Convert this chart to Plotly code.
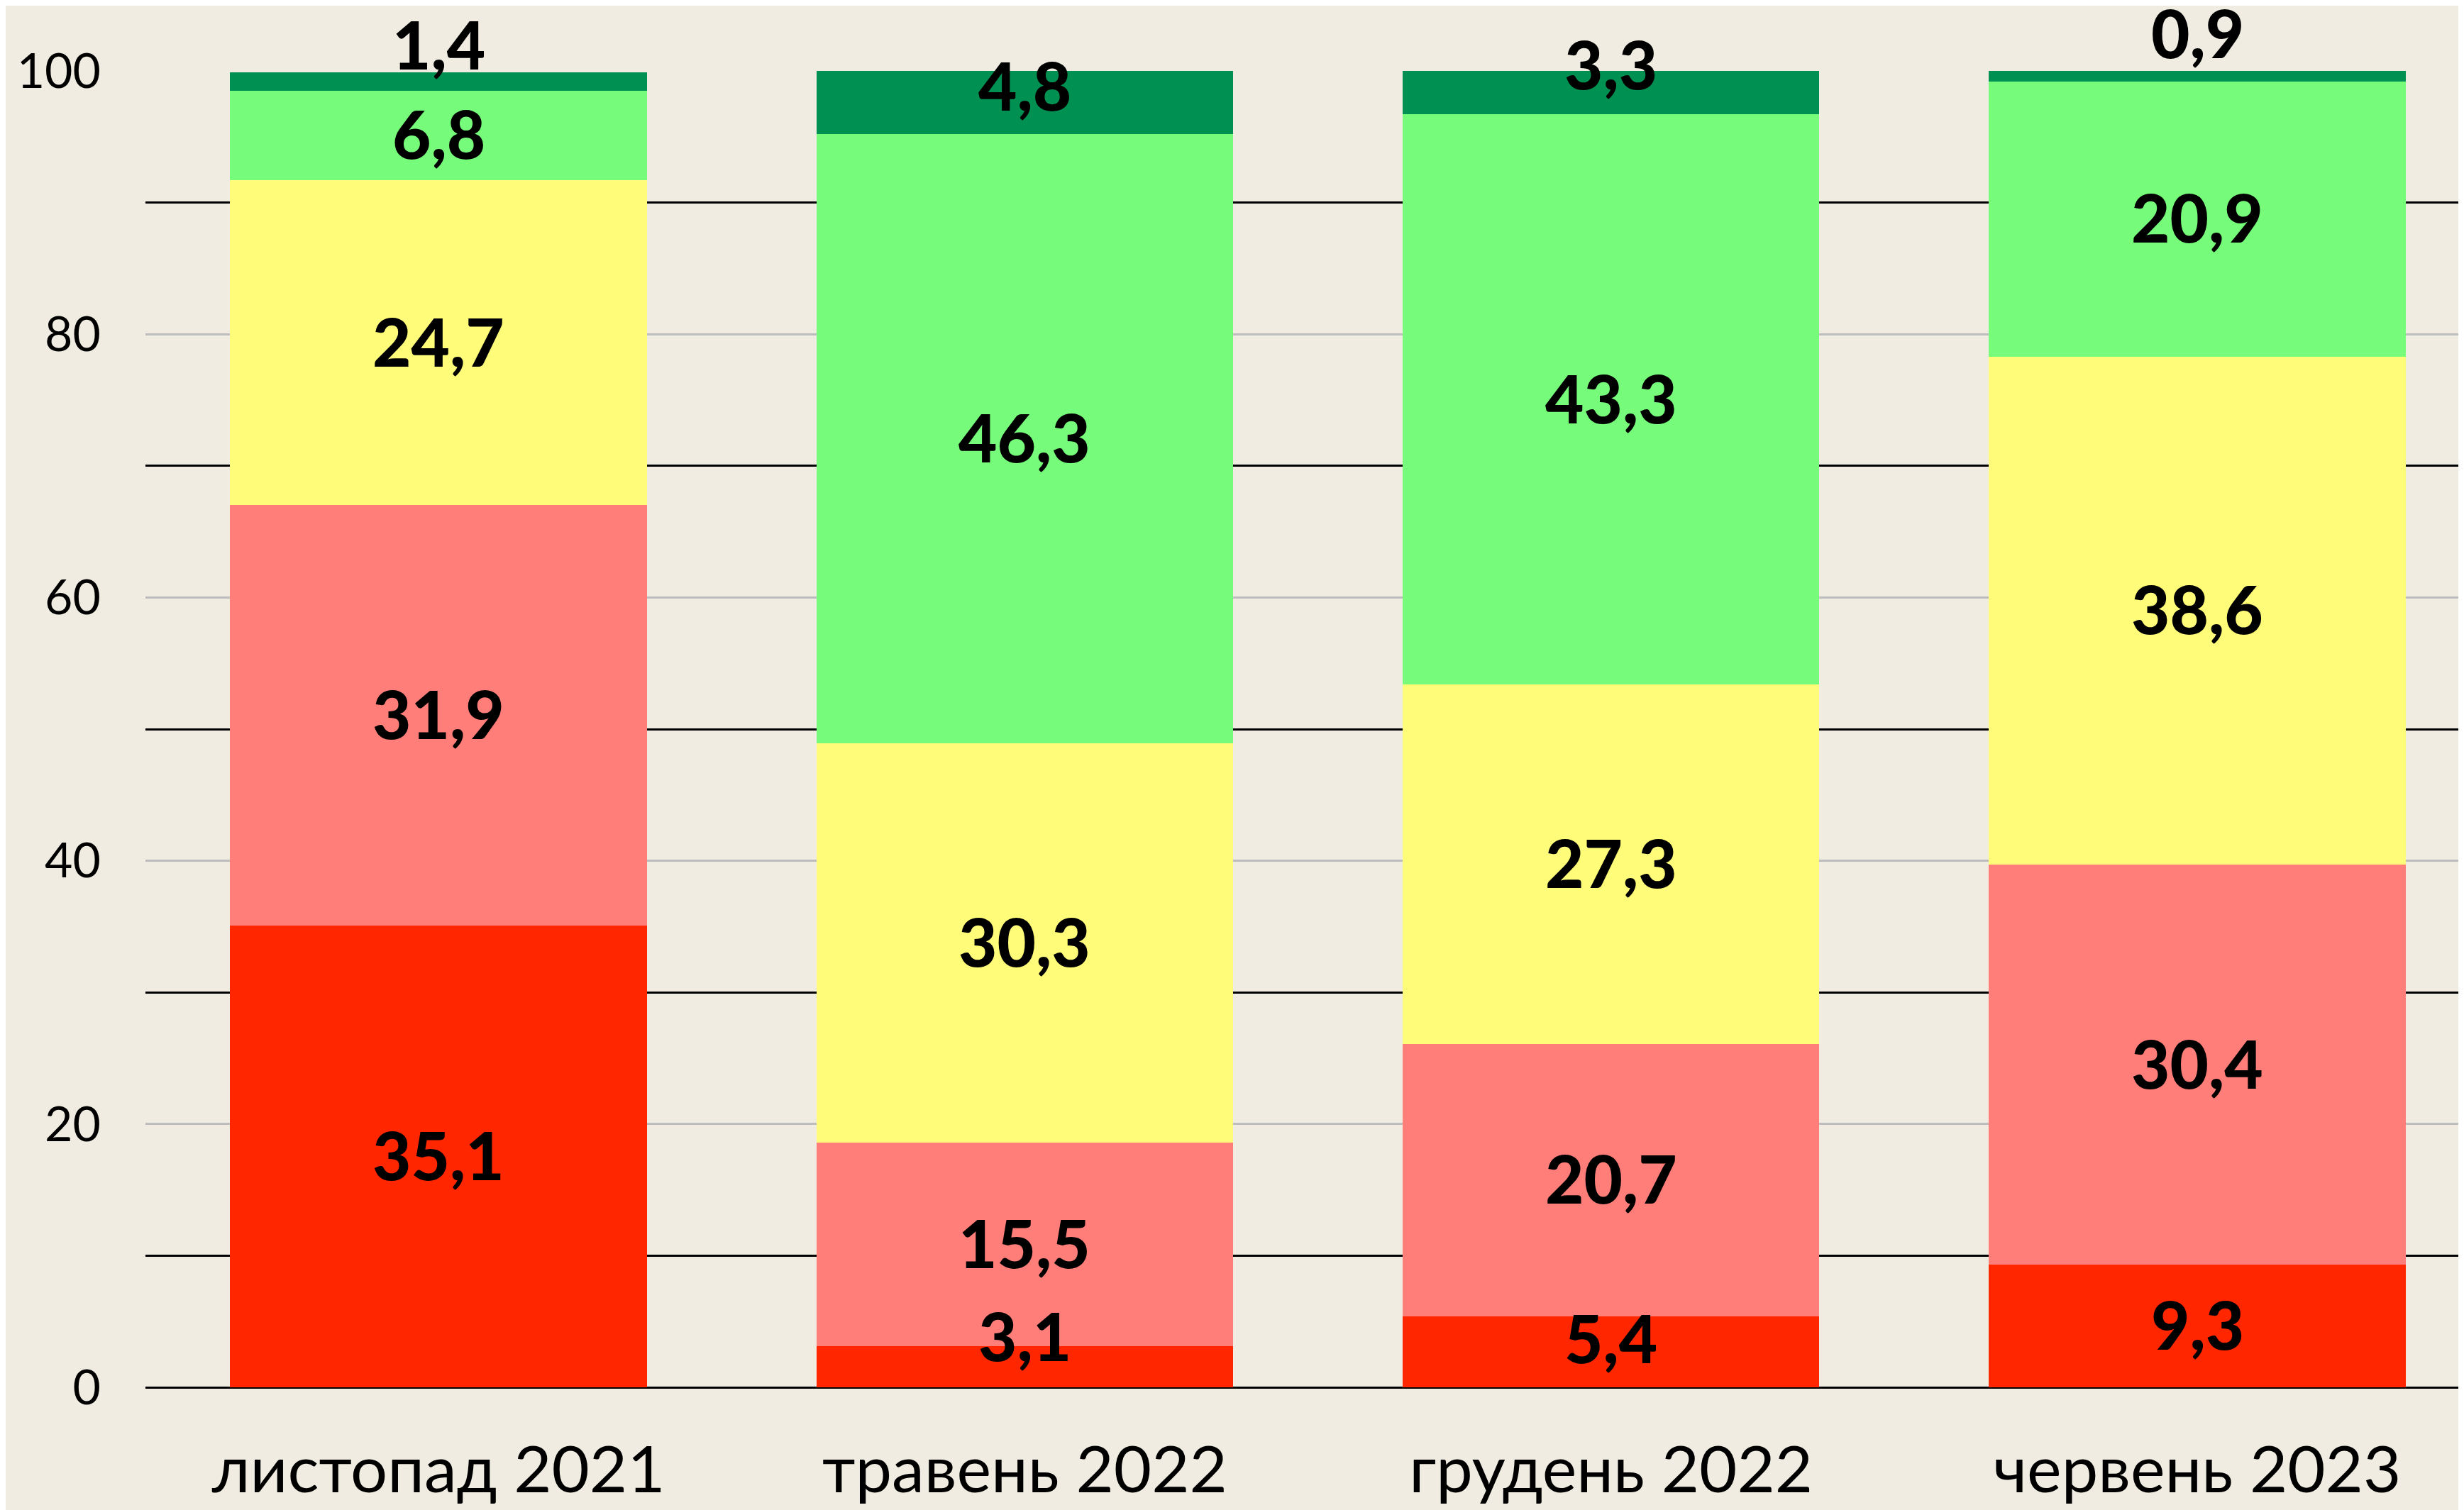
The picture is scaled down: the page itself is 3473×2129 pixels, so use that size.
import plotly.graph_objects as go

# periods on the x axis
categories = ["листопад 2021", "травень 2022", "грудень 2022", "червень 2023"]

# stacked shares, bottom to top
red_vals = [35.1, 3.1, 5.4, 9.3]
salmon_vals = [31.9, 15.5, 20.7, 30.4]
yellow_vals = [24.7, 30.3, 27.3, 38.6]
lightgreen_vals = [6.8, 46.3, 43.3, 20.9]
darkgreen_vals = [1.4, 4.8, 3.3, 0.9]

y_tickvals = [0, 20, 40, 60, 80, 100]

series = [red_vals, salmon_vals, yellow_vals, lightgreen_vals, darkgreen_vals]
colors = ["#FF2600", "#FF7E79", "#FFFC79", "#76FB7A", "#009051"]

# labels of thin segments are nudged up a bit (pixels), keyed by (series, category)
LABEL_NUDGE = {(0, 1): 42, (0, 2): 17, (4, 0): 50, (4, 1): 22, (4, 2): 38, (4, 3): 58}

BG = "#F0ECE1"
TICK_FONT = "Lato, Noto Sans, sans-serif"

fig = go.Figure()
for vals, color in zip(series, colors):
    fig.add_trace(go.Bar(
        x=categories,
        y=vals,
        marker=dict(color=color, line=dict(width=0)),
        showlegend=False,
        hoverinfo="skip",
    ))

# value labels in the middle of each segment
annotations = []
base = [0.0] * len(categories)
for s, vals in enumerate(series):
    for i, v in enumerate(vals):
        annotations.append(dict(
            x=categories[i],
            y=base[i] + v / 2,
            text=f"{v:.1f}".replace(".", ","),
            showarrow=False,
            yshift=LABEL_NUDGE.get((s, i), 0) + 3,
            font=dict(family=TICK_FONT, size=94, color="black", weight=900),
        ))
        base[i] += v

fig.update_layout(
    width=3465,
    height=2121,
    paper_bgcolor=BG,
    plot_bgcolor=BG,
    barmode="stack",
    bargap=0.289,
    margin=dict(l=197, r=0, t=92, b=173),
    annotations=annotations,
    xaxis=dict(
        range=[-0.5, 3.455],
        showgrid=False,
        showline=False,
        ticks="",
        tickfont=dict(family=TICK_FONT, size=92, color="black"),
        ticklabelstandoff=55,
    ),
    yaxis=dict(
        range=[0, 100],
        tickvals=y_tickvals,
        showgrid=True,
        gridcolor="#BDBDBD",
        gridwidth=3,
        zeroline=True,
        zerolinecolor="black",
        zerolinewidth=3,
        showline=False,
        ticks="",
        tickfont=dict(family=TICK_FONT, size=68, color="black"),
        ticklabelstandoff=62,
        minor=dict(tick0=10, dtick=20, showgrid=True, gridcolor="black", gridwidth=3),
    ),
)

fig.write_html("out.html")
